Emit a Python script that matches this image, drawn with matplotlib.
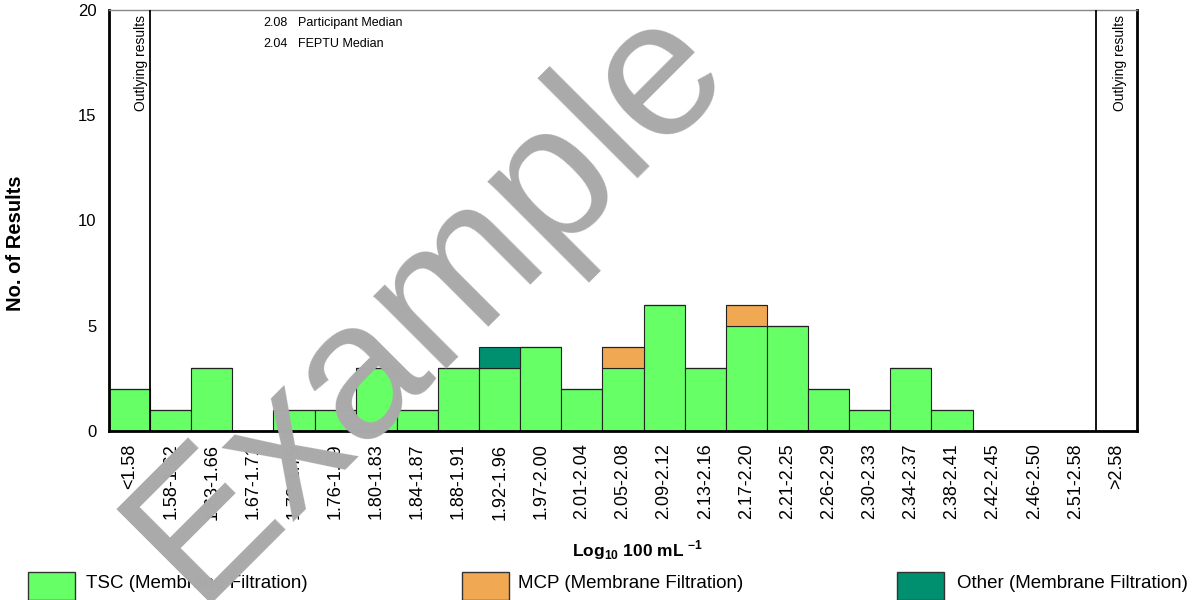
import numpy as np
import matplotlib.pyplot as plt
from matplotlib.patches import Rectangle

plt.rcParams['font.family'] = ['Liberation Sans', 'DejaVu Sans']

bins = ['<1.58', '1.58-1.62', '1.63-1.66', '1.67-1.71', '1.72-1.75', '1.76-1.79',
        '1.80-1.83', '1.84-1.87', '1.88-1.91', '1.92-1.96', '1.97-2.00', '2.01-2.04',
        '2.05-2.08', '2.09-2.12', '2.13-2.16', '2.17-2.20', '2.21-2.25', '2.26-2.29',
        '2.30-2.33', '2.34-2.37', '2.38-2.41', '2.42-2.45', '2.46-2.50', '2.51-2.58', '>2.58']
tsc = [2, 1, 3, 0, 1, 1, 3, 1, 3, 3, 4, 2, 3, 6, 3, 5, 5, 2, 1, 3, 1, 0, 0, 0, 0]
mcp = [0, 0, 0, 0, 0, 0, 0, 0, 0, 0, 0, 0, 1, 0, 0, 1, 0, 0, 0, 0, 0, 0, 0, 0, 0]
other = [0, 0, 0, 0, 0, 0, 0, 0, 0, 1, 0, 0, 0, 0, 0, 0, 0, 0, 0, 0, 0, 0, 0, 0, 0]
series_names = ['TSC (Membrane Filtration)', 'MCP (Membrane Filtration)', 'Other (Membrane Filtration)']
colors = ['#66ff66', '#f0a852', '#009070']
participant_median = 2.08
feptu_median = 2.04

fig = plt.figure(figsize=(11.97, 6), dpi=100)
ax = fig.add_axes([109 / 1197, 1 - 431 / 600, 1028 / 1197, 421 / 600])

x = np.arange(len(bins))
bottom = np.zeros(len(bins))
for vals, c in zip([tsc, mcp, other], colors):
    vals = np.array(vals)
    ax.bar(x, vals, width=1.0, bottom=bottom, color=c, edgecolor='#222222',
           linewidth=0.8, zorder=2)
    bottom += vals

ax.set_xlim(-0.5, len(bins) - 0.5)
ax.set_ylim(0, 20)
ax.set_yticks([0, 5, 10, 15, 20])
ax.set_yticklabels(['0', '5', '10', '15', '20'], fontsize=12)
ax.tick_params(axis='y', length=0, pad=9)
ax.set_xticks(x)
ax.set_xticklabels(bins, rotation=90, fontsize=13)
ax.tick_params(axis='x', length=0, pad=9)

for s in ['left', 'bottom', 'right']:
    ax.spines[s].set_linewidth(2)
    ax.spines[s].set_color('black')
ax.spines['top'].set_color('#888888')
ax.spines['top'].set_linewidth(1)

# outlying result dividers
ax.axvline(0.5, color='black', linewidth=1.3, zorder=3)
ax.axvline(len(bins) - 1.5, color='black', linewidth=1.3, zorder=3)
ax.text(0.28, 19.75, 'Outlying results', rotation=90, ha='center', va='top', fontsize=10)
ax.text(len(bins) - 0.92, 19.75, 'Outlying results', rotation=90, ha='center', va='top', fontsize=10)

fig.text(263 / 1197, 1 - 23 / 600, f'{participant_median:.2f}', fontsize=9, va='center')
fig.text(298 / 1197, 1 - 23 / 600, 'Participant Median', fontsize=9, va='center')
fig.text(263 / 1197, 1 - 44 / 600, f'{feptu_median:.2f}', fontsize=9, va='center')
fig.text(298 / 1197, 1 - 44 / 600, 'FEPTU Median', fontsize=9, va='center')

fig.text(16 / 1197, 1 - 243 / 600, 'No. of Results', rotation=90, ha='center',
         va='center', fontsize=14.5, fontweight='bold')
fig.text(638 / 1197, 1 - 550 / 600, r'Log$_{\mathregular{10}}$ 100 mL $^{\mathregular{-1}}$',
         ha='center', va='center', fontsize=12.5, fontweight='bold')

# legend
box_x = [28, 462, 897]
text_x = [86, 518, 957]
for bx, tx, name, c in zip(box_x, text_x, series_names, colors):
    fig.patches.append(Rectangle((bx / 1197, 0), 47 / 1197, 28 / 600,
                                 transform=fig.transFigure, facecolor=c,
                                 edgecolor='#333333', linewidth=1.0))
    fig.text(tx / 1197, 1 - 584 / 600, name, fontsize=13.5, va='center')

# watermark
fig.text(428 / 1197, 1 - 300 / 600, 'Example', fontsize=140, color='#aaaaaa',
         rotation=45, ha='center', va='center', zorder=10)

fig.savefig('out.png', dpi=100)
